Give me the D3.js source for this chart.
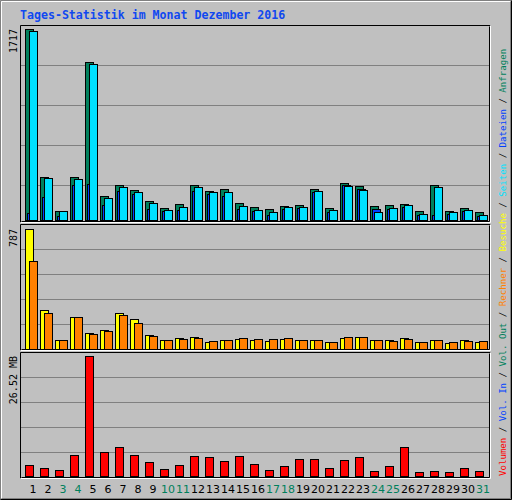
<!DOCTYPE html>
<html><head><meta charset="utf-8">
<script src="https://cdn.jsdelivr.net/npm/d3@7"></script>
<style>body{margin:0;background:#fff}</style>
</head><body>
<script>
const days = d3.range(1,32);
const weekend = [3,4,10,11,17,18,24,25,31];
const hits  = [1717,386,81,386,1418,213,312,267,168,105,141,312,258,276,150,114,96,123,132,276,105,330,303,123,132,141,81,312,81,105,72];
const files = [60,207,36,315,324,135,261,234,99,81,87,261,231,216,99,81,45,96,105,249,69,312,276,96,96,114,45,45,54,81,36];
const pages = [1700,375,81,366,1400,195,294,249,150,87,114,294,249,249,123,87,69,114,114,258,87,303,267,69,105,132,54,294,69,87,45];
const visits = [787,256,57,208,103,123,234,195,90,57,70,77,44,57,64,57,50,64,57,57,44,70,77,57,57,70,44,57,37,57,44];
const sites  = [575,234,57,208,96,116,221,169,83,57,64,70,50,57,70,64,64,70,57,57,44,77,77,57,50,64,44,57,44,50,50];
const volume = [2.37,1.71,1.26,4.59,26.52,5.25,6.36,4.59,3.04,1.48,2.37,4.37,4.14,3.26,4.37,2.59,1.26,2.15,3.70,3.70,1.71,3.48,4.14,1.04,2.15,6.36,0.82,1.04,0.82,1.71,1.04];
const title = "Tages-Statistik im Monat Dezember 2016";
const maxLabels = ["1717","787","26.52 MB"];
const legend = [["Volumen","#ff0000"],["Vol. In","#0040ff"],["Vol. Out","#00805c"],["Rechner","#ff8000"],["Besuche","#ffff00"],["Seiten","#00e0ff"],["Dateien","#0040ff"],["Anfragen","#00805c"]];

const W=512,H=500;
const svg=d3.select("body").append("svg").attr("width",W).attr("height",H).style("display","block");
const mono="'DejaVu Sans Mono',monospace";
svg.append("rect").attr("width",W).attr("height",H).attr("fill","#c0c0c0");
// bevel
svg.append("path").attr("d","M0.5,499.5V0.5H511.5").attr("stroke","#808080").attr("fill","none");
svg.append("path").attr("d","M1.5,498.5V1.5H510.5").attr("stroke","#fff").attr("fill","none");
svg.append("path").attr("d","M1.5,498.5H510.5V1.5").attr("stroke","#808080").attr("fill","none");
svg.append("path").attr("d","M0.5,499.5H511.5V0.5").attr("stroke","#000").attr("fill","none");

svg.append("text").attr("x",20).attr("y",19).attr("font-family",mono).attr("font-weight","bold")
  .attr("font-size",11.6).attr("fill","#1048f0").text(title);

const x=d3.scaleLinear().domain([1,31]).range([25,475]);
const panels=[
  {top:25,bot:222,base:220,y0:29,max:1717,grid:[65,105,145,185]},
  {top:224,bot:350,base:349,y0:229,max:787,grid:[249,274,299,324]},
  {top:352,bot:478,base:476,y0:356,max:26.52,grid:[377,402,427,452]}
];
panels.forEach((p,i)=>{
  p.y=d3.scaleLinear().domain([0,p.max]).range([p.base,p.y0]);
  svg.append("path").attr("d",`M20.5,${p.bot+0.5}V${p.top+0.5}H490.5`).attr("stroke","#000").attr("fill","none");
  svg.append("path").attr("d",`M20.5,${p.bot+0.5}H490.5V${p.top+0.5}`).attr("stroke","#fff").attr("fill","none");
  svg.append("path").attr("d",`M21.5,${p.bot-0.5}H489.5V${p.top+1.5}`).attr("stroke","#000").attr("fill","none");
  p.grid.forEach(g=>{
    const gy=p.y(p.y.invert(g));
    svg.append("line").attr("x1",21).attr("x2",489).attr("y1",gy+0.5).attr("y2",gy+0.5).attr("stroke","#808080");
  });
  svg.append("text").attr("transform",`translate(17,${p.y0}) rotate(-90)`).attr("text-anchor","end")
    .attr("font-family",mono).attr("font-size",10).attr("fill","#000").text(maxLabels[i]);
});

function bars(p,data,dx,w,color){
  svg.append("g").selectAll("rect").data(data).join("rect")
   .attr("x",(d,i)=>x(days[i])+dx+0.5).attr("width",w)
   .attr("y",d=>Math.round(p.y(d))+0.5).attr("height",d=>p.base-Math.round(p.y(d)))
   .attr("fill",color).attr("stroke","#000");
}
bars(panels[0],hits,0,8,"#00805c");
bars(panels[0],files,2,8,"#0040ff");
bars(panels[0],pages,4,8,"#00e0ff");
bars(panels[1],visits,0,8,"#ffff00");
bars(panels[1],sites,4,8,"#ff8000");
bars(panels[2],volume,0,8,"#ff0000");

svg.append("g").selectAll("text").data(days).join("text")
  .attr("x",d=>x(d)+8).attr("y",493).attr("text-anchor","middle")
  .attr("font-family","'DejaVu Sans',sans-serif").attr("font-size",11)
  .attr("fill",d=>weekend.includes(d)?"#00805c":"#000").text(d=>d);

const lt=svg.append("text").attr("transform","translate(506,476) rotate(-90)")
  .attr("font-family",mono).attr("font-size",9.1);
legend.forEach((l,i)=>{
  if(i>0) lt.append("tspan").attr("fill","#000").text(" / ");
  lt.append("tspan").attr("fill",l[1]).text(l[0]);
});
</script>
</body></html>
